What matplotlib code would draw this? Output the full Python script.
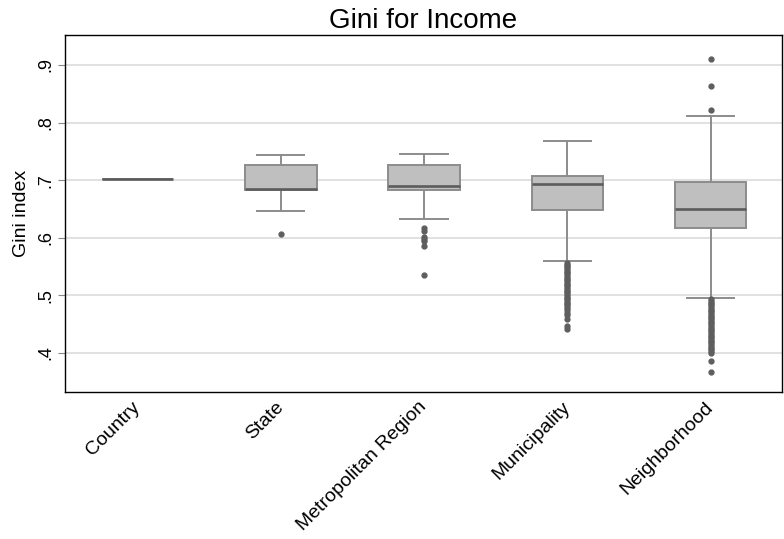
import matplotlib
matplotlib.use("Agg")
import matplotlib.pyplot as plt

plt.rcParams["font.family"] = ["Liberation Sans", "DejaVu Sans"]

# Geographic levels
categories = ["Country", "State", "Metropolitan Region", "Municipality", "Neighborhood"]

# Box summary statistics per level
whisker_low = [0.702, 0.646, 0.632, 0.559, 0.496]
q1 = [0.702, 0.683, 0.683, 0.648, 0.616]
median = [0.702, 0.684, 0.690, 0.694, 0.650]
q3 = [0.702, 0.726, 0.726, 0.707, 0.697]
whisker_high = [0.702, 0.743, 0.745, 0.768, 0.811]

# Outlying values per level
outliers_country = []
outliers_state = [0.606]
outliers_metro = [0.616, 0.612, 0.602, 0.598, 0.594, 0.586, 0.536]
outliers_muni = [0.556, 0.553, 0.550, 0.547, 0.544, 0.541, 0.538, 0.535, 0.532,
                 0.529, 0.526, 0.523, 0.520, 0.517, 0.514, 0.511, 0.508, 0.505,
                 0.502, 0.499, 0.496, 0.493, 0.490, 0.487, 0.484, 0.481, 0.478,
                 0.475, 0.470, 0.465, 0.459, 0.447, 0.441]
outliers_neigh_high = [0.911, 0.863, 0.822]
outliers_neigh_low = [0.493, 0.490, 0.487, 0.484, 0.481, 0.478, 0.475, 0.472,
                      0.469, 0.466, 0.463, 0.460, 0.457, 0.454, 0.451, 0.448,
                      0.445, 0.442, 0.439, 0.436, 0.433, 0.430, 0.427, 0.424,
                      0.421, 0.418, 0.415, 0.412, 0.409, 0.406, 0.403, 0.400,
                      0.385, 0.367]
outliers = [outliers_country, outliers_state, outliers_metro, outliers_muni,
            outliers_neigh_high + outliers_neigh_low]

y_ticks = [0.4, 0.5, 0.6, 0.7, 0.8, 0.9]
y_tick_labels = [".4", ".5", ".6", ".7", ".8", ".9"]

stats = []
for i, name in enumerate(categories):
    stats.append({
        "label": name,
        "whislo": whisker_low[i],
        "q1": q1[i],
        "med": median[i],
        "q3": q3[i],
        "whishi": whisker_high[i],
        "fliers": outliers[i],
    })

fig = plt.figure(figsize=(7.84, 5.39), dpi=100)
ax = fig.add_axes([0.083, 0.2727, 0.914, 0.6623])

box_edge = "#8c8c8c"
positions = list(range(1, len(categories) + 1))
ax.bxp(
    stats,
    positions=positions,
    widths=0.5,
    capwidths=0.33,
    patch_artist=True,
    boxprops=dict(facecolor="#bfbfbf", edgecolor=box_edge, linewidth=1.4),
    medianprops=dict(color="#5c5c5c", linewidth=1.9),
    whiskerprops=dict(color=box_edge, linewidth=1.4),
    capprops=dict(color=box_edge, linewidth=1.4),
    flierprops=dict(marker="o", markersize=3.5, markerfacecolor="#5e5e5e",
                    markeredgecolor="#5e5e5e", linestyle="none"),
    zorder=3,
)

ax.set_xlim(0.494, 5.496)
ax.set_ylim(0.332, 0.952)
ax.set_yticks(y_ticks)
ax.set_yticklabels(y_tick_labels, rotation=90, va="center", fontsize=13)
ax.yaxis.grid(True, color="#dcdcdc", linewidth=1.2, zorder=0)
ax.set_axisbelow(True)
ax.tick_params(axis="y", length=5, width=0.8, color="#888888", pad=3)
ax.tick_params(axis="x", length=0, pad=9)
ax.set_xticks(positions)
ax.set_xticklabels(categories, rotation=45, ha="right", va="center",
                   rotation_mode="anchor", fontsize=14)
ax.set_ylabel("Gini index", fontsize=14, labelpad=5)
ax.set_title("Gini for Income", fontsize=20, pad=5)

for side in ax.spines.values():
    side.set_color("black")
    side.set_linewidth(1.0)

fig.savefig("out.png", dpi=100, facecolor="white")
